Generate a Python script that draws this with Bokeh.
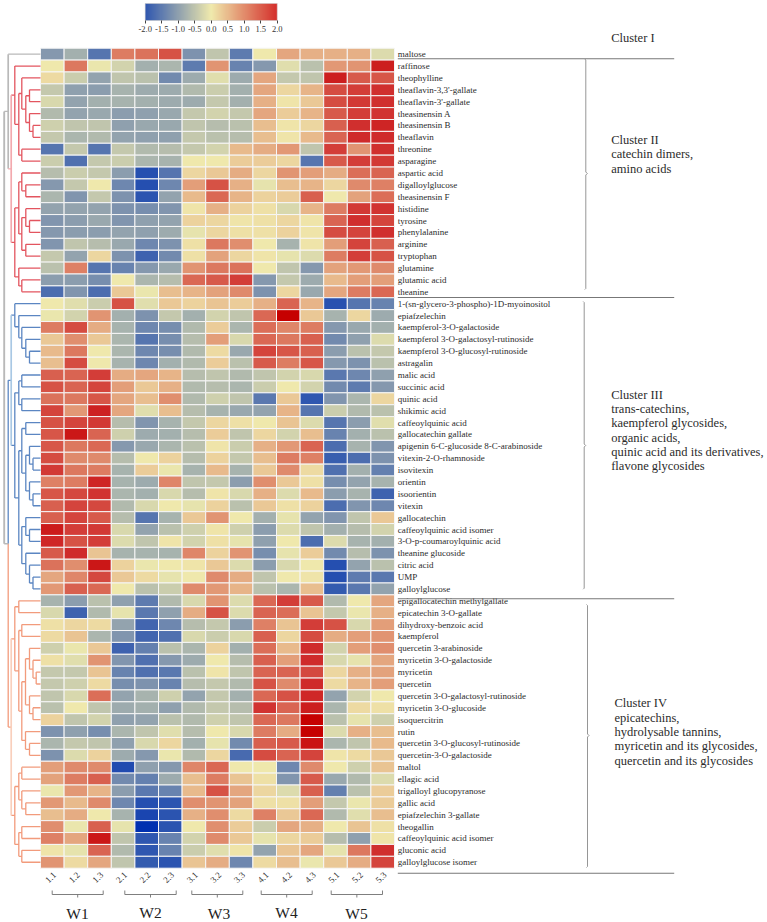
from bokeh.embed import file_html
from bokeh.resources import INLINE
from bokeh.plotting import figure
from bokeh.models import (ColumnDataSource, Range1d, LinearColorMapper, ColorBar,
                          FixedTicker, PrintfTickFormatter, AllLabels)
from bokeh.transform import transform
from bokeh.core.properties import value
import numpy as np

# ---------- labels ----------
samples = ["1.1","1.2","1.3","2.1","2.2","2.3","3.1","3.2","3.3","4.1","4.2","4.3","5.1","5.2","5.3"]
groups = ["W1","W2","W3","W4","W5"]

names_I = ["maltose"]
names_II = ["raffinose","theophylline","theaflavin-3,3'-gallate","theaflavin-3'-gallate","theasinensin A",
            "theasinensin B","theaflavin","threonine","asparagine","aspartic acid","digalloylglucose",
            "theasinensin F","histidine","tyrosine","phenylalanine","arginine","tryptophan","glutamine",
            "glutamic acid","theanine"]
names_III = ["1-(sn-glycero-3-phospho)-1D-myoinositol","epiafzelechin","kaempferol-3-O-galactoside",
             "kaempferol 3-O-galactosyl-rutinoside","kaempferol 3-O-glucosyl-rutinoside","astragalin",
             "malic acid","succinic acid","quinic acid","shikimic acid","caffeoylquinic acid",
             "gallocatechin gallate","apigenin 6-C-glucoside 8-C-arabinoside","vitexin-2-O-rhamnoside",
             "isovitexin","orientin","isoorientin","vitexin","gallocatechin","caffeoylquinic acid isomer",
             "3-O-p-coumaroylquinic acid","theanine glucoside","citric acid","UMP","galloylglucose"]
names_IV = ["epigallocatechin methylgallate","epicatechin 3-O-gallate","dihydroxy-benzoic acid","kaempferol",
            "quercetin 3-arabinoside","myricetin 3-O-galactoside","myricetin","quercetin",
            "quercetin 3-O-galactosyl-rutinoside","myricetin 3-O-glucoside","isoquercitrin","rutin",
            "quercetin 3-O-glucosyl-rutinoside","quercetin-3-O-galactoside","maltol","ellagic acid",
            "trigalloyl glucopyranose","gallic acid","epiafzelechin 3-gallate","theogallin",
            "caffeoylquinic acid isomer","gluconic acid","galloylglucose isomer"]

# ---------- values (z-scores) ----------
values_I = [
 [-1.1,-0.8,-1.6,1.15,1.25,1.6,-1.2,-0.5,-1.5,0.0,0.7,0.6,0.6,0.6,-0.2],
]
values_II = [
 [0.0,1.2,-0.05,-0.3,-0.8,-0.7,-1.5,0.9,-1.4,-1.1,-0.15,-0.55,0.85,0.9,2.2],
 [0.15,-0.4,-0.95,-0.5,-0.55,-1.3,-0.85,-0.15,-0.85,0.7,-0.45,-0.5,2.2,1.5,1.55],
 [-0.45,-1.0,-1.05,-0.75,-0.85,-0.85,-0.65,-0.4,-0.8,0.7,0.2,0.55,1.65,1.8,1.95],
 [-0.25,-0.95,-0.8,-0.75,-0.8,-0.85,-0.85,-0.45,-0.8,0.6,0.05,0.35,1.65,1.85,1.95],
 [-0.65,-0.95,-0.9,-1.05,-1.0,-0.9,-0.45,-0.3,-0.45,0.7,0.3,0.55,1.5,1.8,1.9],
 [-0.35,-0.5,-0.5,-1.0,-0.9,-0.9,-0.5,-0.6,-0.55,0.45,0.05,0.2,1.45,1.95,2.1],
 [-0.45,-0.7,-0.65,-0.95,-1.0,-1.0,-0.45,-0.55,-0.6,0.45,0.05,0.5,1.4,2.0,2.0],
 [-1.6,-0.45,-1.6,-0.45,-0.65,-0.6,-0.45,-0.3,0.5,0.65,0.85,-0.5,1.8,0.9,1.95],
 [-0.4,-1.65,-0.45,-0.4,-0.7,-0.75,0.0,0.0,0.3,0.3,0.2,-1.6,1.5,1.8,1.85],
 [-0.6,-0.4,-0.45,-1.05,-2.15,-1.6,0.2,0.35,0.65,0.2,0.9,0.8,0.65,1.3,1.4],
 [-1.1,-0.45,0.0,-1.35,-2.15,-1.35,0.8,1.6,0.6,-0.1,0.45,0.55,0.2,1.0,1.1],
 [-0.7,-1.15,-0.45,-1.2,-2.05,-0.95,0.5,1.35,0.55,0.25,0.3,1.45,0.0,0.75,1.3],
 [-0.95,-0.95,-0.95,-1.2,-1.25,-1.15,0.05,0.6,0.25,0.1,-0.25,0.55,1.15,1.85,1.9],
 [-1.15,-1.05,-0.9,-1.15,-1.0,-0.95,0.25,0.2,0.05,0.1,0.2,0.05,1.4,1.95,1.75],
 [-1.1,-1.05,-1.05,-0.95,-1.0,-0.85,-0.1,0.2,0.1,0.1,0.25,0.05,1.65,1.75,1.95],
 [-1.15,-0.5,-0.6,-0.9,-1.35,-1.2,0.1,1.2,0.95,0.0,-0.75,0.05,0.8,1.75,1.45],
 [-0.45,-0.95,0.2,-1.2,-1.85,-1.3,0.1,0.75,0.2,0.05,-0.1,-0.2,1.15,1.8,1.6],
 [-0.55,1.1,-1.6,-1.4,-1.1,-0.9,0.9,1.2,1.25,0.0,-0.5,-1.1,0.75,0.85,1.0],
 [-1.05,-1.05,-1.25,0.0,-0.7,-0.6,1.35,1.5,1.8,-1.1,-0.45,-0.85,0.5,0.8,0.8],
 [-1.7,-1.15,-1.7,0.35,-0.05,0.45,0.55,0.75,1.0,-1.2,0.2,-0.9,0.7,1.15,1.35],
]
values_III = [
 [0.0,-0.15,-0.4,1.6,-0.15,0.35,0.25,0.4,0.3,0.6,1.4,0.55,-2.1,-1.6,-1.4],
 [-0.05,-0.3,0.9,-0.8,-1.2,-0.45,-0.8,-0.3,-0.5,1.35,2.7,0.35,-0.75,0.2,-0.85],
 [1.15,1.65,0.65,-0.75,-1.35,-1.25,-0.65,0.3,-0.7,1.3,1.05,1.15,-1.1,-0.9,-0.8],
 [0.35,0.95,0.35,-0.7,-1.6,-1.25,-0.6,0.8,-0.25,1.35,1.2,1.45,-1.3,-1.0,-0.2],
 [0.5,1.2,0.0,-0.7,-1.35,-1.25,-0.65,0.15,-0.9,1.75,1.55,1.45,-1.05,-0.55,-0.45],
 [0.45,1.65,0.0,-0.75,-1.35,-0.8,-0.65,0.3,-0.55,1.5,1.15,1.55,-1.1,-1.2,-0.55],
 [1.45,1.4,1.8,0.65,0.7,0.55,-0.6,-0.5,-0.65,-0.5,-0.3,-0.25,-1.55,-1.35,-1.0],
 [1.6,1.4,1.75,0.8,0.35,0.6,-0.65,-0.6,-0.7,-0.4,0.0,-0.3,-1.3,-1.5,-1.1],
 [1.25,1.2,1.55,0.7,0.45,0.95,-0.65,-0.35,-0.5,-1.55,0.35,-2.0,-1.15,-0.7,0.2],
 [1.75,0.85,2.15,0.7,-0.15,0.45,-0.6,-0.75,-0.9,-0.95,0.55,-1.6,-0.4,-0.65,-0.55],
 [1.6,1.75,1.85,-0.6,-1.15,-0.75,-0.45,0.2,0.1,0.0,0.4,-0.2,-1.6,-1.05,-0.15],
 [1.55,2.3,1.4,-0.35,-0.85,-0.8,-0.6,0.3,-0.5,0.2,-0.3,0.45,-1.4,-0.8,-0.55],
 [1.55,1.2,1.35,-1.1,-0.9,-0.7,-0.55,0.05,-0.4,0.6,0.85,1.4,-1.7,-0.75,-1.15],
 [1.65,1.0,1.0,-0.6,0.0,0.25,-0.6,0.25,-0.45,0.45,1.15,1.1,-1.9,-1.7,-1.2],
 [1.85,1.2,1.15,-0.75,0.3,-0.05,-0.75,0.5,-0.75,0.35,1.0,0.15,-1.65,-0.8,-1.45],
 [1.1,1.15,2.1,-0.75,-0.85,1.05,-0.5,-0.45,-1.05,0.95,0.35,0.1,-1.25,-0.95,-0.75],
 [1.55,1.7,1.9,-0.7,-0.8,-0.25,-0.6,0.05,-0.25,0.6,-0.2,0.5,-1.05,-0.75,-1.85],
 [1.45,1.75,1.7,-0.65,-0.25,0.0,-0.1,0.25,-0.55,0.35,0.1,0.25,-1.7,-1.15,-1.35],
 [1.45,1.75,1.5,-0.6,-1.6,-0.75,0.35,0.9,0.0,-0.8,-0.1,-0.95,-1.15,-0.5,0.35],
 [2.25,1.8,1.85,-0.25,-0.95,-0.55,-0.35,0.05,-0.35,-1.05,-0.2,-0.5,-0.8,-0.6,-0.3],
 [2.05,1.6,1.8,-0.2,-0.5,0.05,-0.3,0.1,-0.1,-1.0,0.0,-1.7,-0.2,-0.75,-0.8],
 [1.5,2.0,0.4,-0.75,-0.75,-0.75,1.05,0.25,0.9,-1.25,-0.1,0.3,-1.3,-0.6,-1.2],
 [1.25,0.95,2.3,0.25,-0.05,0.0,0.05,0.35,-0.2,-1.05,-0.25,0.0,-2.15,-0.95,-0.55],
 [0.7,1.05,1.7,0.35,0.15,-0.1,0.0,1.0,0.65,-0.5,0.0,0.05,-2.15,-1.5,-1.55],
 [0.85,1.45,1.35,0.0,-0.55,-0.4,1.0,0.85,0.55,-0.55,-0.7,0.45,-1.95,-1.55,-0.95],
]
values_IV = [
 [-0.75,-1.05,-0.55,-1.0,-1.5,-0.65,-0.25,0.9,-0.2,1.35,1.8,1.5,-0.65,0.0,0.7],
 [-0.25,-1.85,-0.65,-0.1,-1.55,-1.0,0.65,1.6,-0.2,1.4,1.3,0.4,-0.45,-0.05,0.6],
 [0.1,0.2,0.15,-0.95,-1.8,-1.35,-0.6,-0.45,-1.05,1.1,0.4,1.8,1.6,-0.25,0.8],
 [0.15,0.4,-0.7,-1.15,-1.8,-1.65,-0.25,-0.4,-0.25,1.45,0.2,1.65,0.65,0.8,0.9],
 [-0.35,-0.05,0.35,-1.85,-1.45,-0.55,-0.7,0.25,-0.8,1.3,0.5,2.0,-0.3,0.8,0.95],
 [0.1,-0.15,0.9,-1.15,-1.65,-1.1,-0.85,0.0,-0.6,1.45,0.8,2.0,-0.25,-0.1,0.7],
 [-0.45,-0.45,0.4,-1.4,-1.65,-1.55,-0.55,0.05,-0.5,1.4,1.4,1.7,0.2,0.6,0.75],
 [-0.45,-0.35,0.15,-1.25,-1.2,-1.4,-0.6,-0.45,-0.65,1.6,1.0,2.0,0.15,0.55,0.8],
 [-0.5,-0.25,1.3,-0.95,-0.75,-0.35,-0.95,-0.45,-0.8,1.35,1.6,2.05,-0.95,-0.3,0.0],
 [-0.55,0.0,-0.5,-0.85,-0.8,-1.0,-0.65,-0.45,-0.6,1.9,1.4,2.2,-0.7,0.15,0.1],
 [0.25,-0.5,-0.3,-1.0,-0.95,-0.55,-0.65,-0.35,-0.5,1.35,1.2,2.7,-0.55,-0.1,-0.35],
 [-1.2,-1.0,-1.25,-0.7,-0.5,-0.15,-0.6,0.0,-0.25,1.15,0.65,2.7,-0.2,0.6,0.45],
 [-0.7,-0.45,-0.5,-1.0,-0.25,0.2,-0.8,-0.1,-1.3,1.45,1.5,2.4,-0.7,-0.5,0.5],
 [-1.2,-0.2,0.25,-0.85,-1.1,-0.05,-0.65,0.2,-1.75,1.65,1.4,1.75,0.05,0.15,0.35],
 [0.8,1.0,1.0,-2.2,-1.0,-1.1,1.05,1.35,0.0,0.0,-1.35,1.0,0.0,-0.35,0.4],
 [0.75,1.15,1.45,-1.3,-1.45,-0.85,0.45,1.15,0.4,0.1,-1.15,1.5,-0.9,-0.65,-0.2],
 [-0.05,0.85,0.55,-1.05,-1.55,-1.4,0.5,1.6,0.7,0.2,-0.2,1.45,-1.45,-0.55,0.3],
 [0.85,0.5,1.0,-1.35,-2.15,-2.05,0.95,0.9,0.75,0.1,0.1,0.8,-0.45,-0.05,0.3],
 [0.45,0.65,0.0,-0.75,-2.3,-2.05,0.6,0.95,0.15,1.1,0.35,1.35,-0.65,-0.15,0.45],
 [0.95,-0.05,1.45,-0.1,-2.7,-2.05,0.0,0.95,0.3,-0.4,0.7,0.6,0.0,0.4,0.1],
 [1.1,0.7,2.3,-0.5,-2.0,-1.4,-0.3,1.0,0.35,-0.1,0.2,0.3,-0.6,-1.0,0.05],
 [0.05,-0.1,1.4,-0.65,-2.0,-1.4,-0.4,-0.15,0.05,-0.95,0.4,0.7,-0.1,1.2,1.95],
 [0.9,0.15,0.7,-0.5,-1.95,-2.05,0.4,0.65,-1.35,0.15,0.45,-0.05,0.35,0.65,1.75],
]

# ---------- dendrogram: (merge height in page px, upper child, lower child); L = a leaf ----------
L = None
tree_II = (10.7,
  (14.3, L,
    (18.3,
      (21.3, L, (25.3, (29.0, L, L), (29.0, L, (32.5, L, L)))),
      (21.3, L, L))),
  (14.3,
    (18.3,
      (21.3, L, (25.3, L, L)),
      (21.3, (25.3, L, (29.0, L, L)), (25.3, L, L))),
    (18.3, L, (21.3, L, L))))
tree_III = (10.7,
  (14.3, L, (18.3, L, (21.3, L, (25.3, L, (29.0, L, L))))),
  (14.3,
    (18.3, (21.3, L, L), (21.3, L, L)),
    (18.3,
      (21.3, (25.3, L, L), (25.3, (29.0, L, (32.5, L, L)), (29.0, L, (32.5, L, L)))),
      (21.3, (25.3, L, (29.0, L, L)), (25.3, L, (29.0, L, (32.5, L, L)))))))
tree_IV = (10.7,
  (14.3,
    (18.3, L, L),
    (18.3,
      (21.3, L, L),
      (21.3,
        (25.0, (29.0, L, (32.5, L, (35.7, L, L))), (29.0, L, (32.5, L, L))),
        (25.0, L, (29.0, L, L))))),
  (14.3,
    (18.3, (21.3, L, L), (21.3, L, (25.3, L, L))),
    (18.3, (21.3, L, L), (21.3, L, L))))
join_x_root = 3.7
join_x_upper = 7.7
root_join_row = 41.7
GREY = "#b9b9b9"
tree_colors = {"II": ("#e3555f", "#f3a9ae"), "III": ("#5b86c2", "#a9c8e4"), "IV": ("#f29b7c", "#f9cfbc")}
LINE_W, TOP_W = 1.3, 1.7

# ---------- annotation layout (page px) ----------
label_x = 397.3
sep_x = (397.3, 673.7)
sep_y = [58.3, 297.0, 598.3, 872.7]
braces = [(585.3, 59.5, 288.0, 173.0), (583.7, 302.0, 587.7, 445.0), (587.0, 605.0, 866.0, 735.0)]
cluster_texts = [
  (610.7, [37.7], ["Cluster I"]),
  (610.7, [139.3, 153.7, 168.0], ["Cluster II", "catechin dimers,", "amino acids"]),
  (610.7, [394.0, 408.3, 422.7, 437.0, 451.3, 465.7],
   ["Cluster III", "trans-catechins,", "kaempferol glycosides,", "organic acids,",
    "quinic acid and its derivatives,", "flavone glycosides"]),
  (614.0, [702.7, 717.0, 731.3, 745.7, 760.0],
   ["Cluster IV", "epicatechins,", "hydrolysable tannins,", "myricetin and its glycosides,",
    "quercetin and its glycosides"]),
]
bracket_x = [(51.7, 102.7), (124.3, 175.7), (191.3, 242.3), (260.7, 311.7), (330.7, 382.0)]
group_x = [77.0, 150.0, 218.5, 286.0, 356.0]
group_y = [913.0, 912.0, 912.5, 912.0, 913.0]

# ---------- scales ----------
PAGE_W, PAGE_H = 767, 922
HM_X0, CELL_W = 40.0, 23.6
HM_Y0, CELL_H = 47.7, 11.884

names = names_I + names_II + names_III + names_IV
matrix = np.array(values_I + values_II + values_III + values_IV)
n_rows, n_cols = matrix.shape

def ramp(stops, n):
    xs = [s[0] for s in stops]
    rgb = [[int(s[1][i:i+2], 16) for s in stops] for i in (1, 3, 5)]
    t = np.linspace(xs[0], xs[-1], n)
    ch = [np.interp(t, xs, c) for c in rgb]
    return ["#%02x%02x%02x" % (int(r), int(g), int(b)) for r, g, b in zip(*ch)]

cell_palette = ramp([(-2.7, "#0030b0"), (-2, "#3058b0"), (0, "#f0eaad"), (2, "#d02c2c"), (2.7, "#c60000")], 256)
bar_palette = ramp([(-2, "#3058b0"), (0, "#f0eaad"), (2, "#d5302c")], 256)
cell_mapper = LinearColorMapper(palette=cell_palette, low=-2.7, high=2.7)
bar_mapper = LinearColorMapper(palette=bar_palette, low=-2, high=2)

p = figure(width=PAGE_W, height=PAGE_H, output_backend="svg", toolbar_location=None,
           x_range=Range1d(-HM_X0 / CELL_W, (PAGE_W - HM_X0) / CELL_W),
           y_range=Range1d((PAGE_H - HM_Y0) / CELL_H, -HM_Y0 / CELL_H),
           x_axis_type=None, y_axis_type=None, min_border=0, outline_line_color=None)
p.extra_x_ranges = {"px": Range1d(0, PAGE_W)}
p.extra_y_ranges = {"px": Range1d(PAGE_H, 0)}
p.grid.visible = False

# ---------- heat map ----------
rr, cc = np.mgrid[0:n_rows, 0:n_cols]
src = ColumnDataSource(dict(col=cc.ravel() + 0.5, row=rr.ravel() + 0.5, val=matrix.ravel()))
p.rect(x="col", y="row", width=1, height=1, source=src,
       fill_color=transform("val", cell_mapper), line_color="#f6f6f6", line_width=1)

# ---------- dendrogram ----------
segs = {}
def add(color, x0, y0, x1, y1, width=LINE_W):
    segs.setdefault((color, width), ([], []))
    segs[(color, width)][0].append([x0, x1])
    segs[(color, width)][1].append([y0, y1])

def walk(node, start, colors, top=True):
    """Return (row position, next leaf index) for a subtree; records its lines."""
    x, a, b = node
    pts = []
    nxt = start
    for child in (a, b):
        if child is None:
            pts.append((nxt + 0.5, HM_X0))
            nxt += 1
        else:
            y, nxt = walk(child, nxt, colors, False)
            pts.append((y, child[0]))
    ym = (pts[0][0] + pts[1][0]) / 2
    vcol = colors[1] if top else colors[0]
    add(vcol, x, pts[0][0], x, pts[1][0], TOP_W if top else LINE_W)
    for y, cx in pts:
        add(colors[0], x, y, cx, y)
    return ym, nxt

y_II, _ = walk(tree_II, 1, tree_colors["II"])
y_III, _ = walk(tree_III, 21, tree_colors["III"])
y_IV, _ = walk(tree_IV, 46, tree_colors["IV"])
y_mal = 0.5
y_top = (y_mal + y_II) / 2
y_low = root_join_row
top_x = tree_II[0]
add(GREY, join_x_upper, y_mal, HM_X0, y_mal)
add(GREY, join_x_upper, y_mal, join_x_upper, y_II, TOP_W)
add(tree_colors["II"][1], join_x_upper, y_II, top_x, y_II)
add(tree_colors["III"][0], join_x_upper, y_III, top_x, y_III)
add(tree_colors["III"][0], join_x_upper, y_III, join_x_upper, y_low)
add(tree_colors["IV"][0], join_x_upper, y_low, join_x_upper, y_IV)
add(tree_colors["IV"][0], join_x_upper, y_IV, top_x, y_IV)
add(GREY, join_x_root, y_top, join_x_root, y_low, 1.9)
add(GREY, join_x_root, y_top, join_x_upper, y_top)
add(GREY, join_x_root, y_low, join_x_upper, y_low)
for (color, width), (xs, ys) in segs.items():
    p.multi_line(xs=xs, ys=ys, line_color=color, line_width=width, x_range_name="px")

# ---------- text ----------
SERIF = value("Liberation Serif")
p.text(x=[label_x] * n_rows, y=list(np.arange(n_rows) + 0.5), text=names,
       x_range_name="px", text_font=SERIF, text_font_size="9px", text_baseline="middle",
       text_color="#2b2b2b")
p.text(x=list(np.arange(n_cols) + 0.43), y=[877.0] * n_cols, text=samples, y_range_name="px",
       angle=np.pi / 4, text_font=SERIF, text_font_size="9px", text_align="center",
       text_baseline="middle", text_color="#333333")

for x, ys, lines in cluster_texts:
    p.text(x=[x] * len(ys), y=ys, text=lines, x_range_name="px", y_range_name="px",
           text_font=SERIF, text_font_size="12.5px", text_baseline="middle", text_color="#2b2b2b")

p.text(x=group_x, y=group_y, text=groups, x_range_name="px", y_range_name="px", text_font=SERIF,
       text_font_size="15.5px", text_align="center", text_baseline="middle", text_color="#222222")

# ---------- separators, braces, brackets ----------
p.multi_line(xs=[list(sep_x) for _ in sep_y], ys=[[y, y] for y in sep_y], line_color="#777777",
             line_width=1.1, x_range_name="px", y_range_name="px")
for x, y0, y1, ym in braces:
    p.line(x=[x - 1, x, x, x + 1.5, x, x, x - 1], y=[y0 - 1, y0, ym - 1.5, ym, ym + 1.5, y1, y1 + 1],
           line_color="#8a8a8a", line_width=0.9, x_range_name="px", y_range_name="px")
for x0, x1 in bracket_x:
    xm = (x0 + x1) / 2
    p.line(x=[x0, x0, x1, x1], y=[890.0, 894.0, 894.0, 890.0], line_color="#707070", line_width=0.9,
           x_range_name="px", y_range_name="px")
    p.line(x=[xm, xm], y=[894.0, 897.0], line_color="#707070", line_width=0.9,
           x_range_name="px", y_range_name="px")

# ---------- colour bar ----------
bar = ColorBar(color_mapper=bar_mapper, location=(144.7, PAGE_H - 34), width=132, height=17,
               orientation="horizontal", padding=0, margin=0, bar_line_color="#c8c8c8", bar_line_width=0.5,
               ticker=FixedTicker(ticks=[-2, -1.5, -1, -0.5, 0, 0.5, 1, 1.5, 2]),
               formatter=PrintfTickFormatter(format="%.1f"), major_tick_in=0, major_tick_out=3,
               major_tick_line_color="#444444", major_label_text_font="Liberation Serif",
               major_label_text_font_size="8.5px", major_label_text_color="#333333",
               major_label_policy=AllLabels(),
               label_standoff=2, background_fill_alpha=0, border_line_color=None)
p.add_layout(bar, "center")

open("out.html", "w").write(file_html(p, INLINE))
